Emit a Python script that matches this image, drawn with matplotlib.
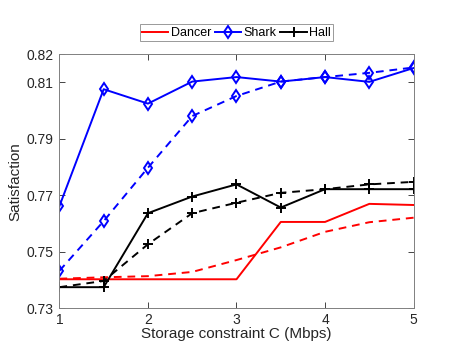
import matplotlib
matplotlib.use("Agg")
import matplotlib.pyplot as plt

plt.rcParams['font.family'] = ['Liberation Sans', 'DejaVu Sans']

x = [1, 1.5, 2, 2.5, 3, 3.5, 4, 4.5, 5]
dancer_solid = [0.7403, 0.7403, 0.7403, 0.7403, 0.7403, 0.7606, 0.7606, 0.7670, 0.7666]
dancer_dashed = [0.7405, 0.7410, 0.7414, 0.7429, 0.7471, 0.7516, 0.7571, 0.7605, 0.7621]
shark_solid = [0.7662, 0.8076, 0.8025, 0.8103, 0.8119, 0.8103, 0.8119, 0.8102, 0.8151]
shark_dashed = [0.7433, 0.7609, 0.7798, 0.7981, 0.8052, 0.8103, 0.8119, 0.8134, 0.8153]
hall_solid = [0.7375, 0.7375, 0.7637, 0.7696, 0.7739, 0.7657, 0.7722, 0.7722, 0.7722]
hall_dashed = [0.7375, 0.7397, 0.7527, 0.7637, 0.7674, 0.7709, 0.7722, 0.7739, 0.7748]

xticks = [1, 2, 3, 4, 5]
yticks = [0.73, 0.75, 0.77, 0.79, 0.81, 0.82]

fig = plt.figure(figsize=(4.57, 3.43), dpi=100)
ax = fig.add_axes([0.130, 0.101, 0.775, 0.741])

lw = 1.4
ax.plot(x, dancer_solid, '-', color='#ff0000', lw=lw, label='Dancer')
ax.plot(x, shark_solid, '-', color='#0000ff', lw=lw, marker='d', ms=6,
        mfc='none', mew=1.4, label='Shark')
ax.plot(x, hall_solid, '-', color='black', lw=lw, marker='+', ms=7, mew=1.4, label='Hall')
ax.plot(x, dancer_dashed, '--', color='#ff0000', lw=lw, dashes=(4, 3))
ax.plot(x, shark_dashed, '--', color='#0000ff', lw=lw, marker='d', ms=6,
        mfc='none', mew=1.4, dashes=(4, 3))
ax.plot(x, hall_dashed, '--', color='black', lw=lw, marker='+', ms=7, mew=1.4, dashes=(4, 3))

ax.set_xlim(1, 5)
ax.set_ylim(0.73, 0.82)
ax.set_xticks(xticks)
ax.set_xticklabels([str(v) for v in xticks])
ax.set_yticks(yticks)
ax.set_yticklabels([f"{v:.2f}" for v in yticks])
ax.tick_params(direction='in', top=True, right=True, labelsize=10, colors='#262626',
               length=4, width=0.6, pad=4)
ax.tick_params(axis='x', pad=3)
for s in ax.spines.values():
    s.set_color('#808080')
    s.set_linewidth(0.7)
ax.set_xlabel('Storage constraint C (Mbps)', fontsize=11, color='#262626', labelpad=0)
ax.set_ylabel('Satisfaction', fontsize=11, color='#262626', labelpad=3)

leg = ax.legend(loc='lower center', bbox_to_anchor=(0.5, 1.05), ncol=3, fontsize=9,
                frameon=True, fancybox=False, edgecolor='#808080', handlelength=2.1,
                handletextpad=0.2, columnspacing=0.3, borderpad=0.2, borderaxespad=0)
leg.get_frame().set_linewidth(0.7)

fig.savefig('out.png', dpi=100)
